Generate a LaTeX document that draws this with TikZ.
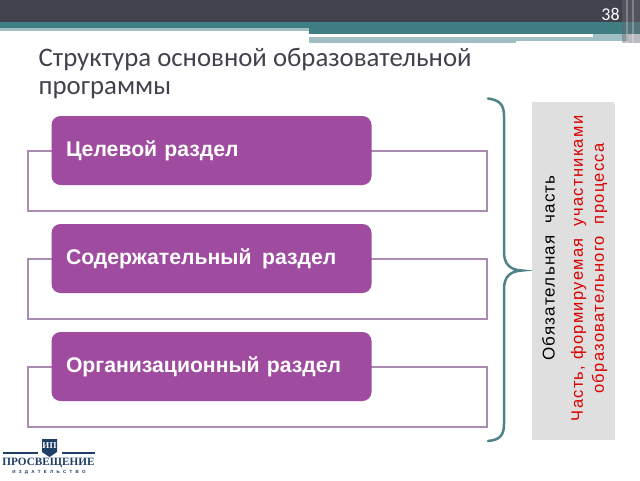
\documentclass[tikz,border=0pt]{standalone}
\usepackage{fontspec}
\setmainfont{Liberation Sans}
\newfontfamily\titlefont{Carlito}
\newfontfamily\logofont{Liberation Serif}
\definecolor{hdark}{HTML}{42424F}
\definecolor{hteal}{HTML}{3F7F84}
\definecolor{hlight}{HTML}{A0BFC2}
\definecolor{plum}{HTML}{9F4B9F}
\definecolor{plumline}{HTML}{A98BB0}
\definecolor{bracecol}{HTML}{4F8388}
\definecolor{greybox}{HTML}{DFDFDF}
\definecolor{navy}{HTML}{1F3F66}
\newcommand{\boxlabel}[1]{\raisebox{-2.5pt}{#1}}
\tikzset{
  x=1pt,y=-1pt,
  sectionbox/.style={fill=plum,rounded corners=9pt,minimum width=320pt,minimum height=69pt,text=white,font=\fontsize{21.2}{24}\selectfont\bfseries,inner sep=0pt,text width=291pt,align=left},
  frameline/.style={draw=plumline,line width=1.1pt},
  sidetext/.style={rotate=90,anchor=center,align=center}
}
\begin{document}
\begin{tikzpicture}
\useasboundingbox (0,0) rectangle (640,480);
\fill[white] (0,0) rectangle (640,480);
% header
\fill[hdark] (0,0) rectangle (640,22);
\fill[hteal] (0,22) rectangle (640,28);
\fill[hlight] (0,28) rectangle (309,31);
\fill[hteal] (309,28) rectangle (640,34);
\fill[white] (309,34) rectangle (593,37);
\fill[hlight] (309,37) rectangle (516,43);
\fill[hlight] (516,37) rectangle (593,41);
\fill[hlight] (593,34) rectangle (628,41);
\fill[hdark!80!white,opacity=.45] (622,0) rectangle (640,43);
\fill[white,opacity=.25] (626,0) rectangle (628,43);
\fill[white,opacity=.25] (632,0) rectangle (634,43);
\node[text=white,font=\fontsize{18}{18}\selectfont\titlefont,inner sep=0pt] (pagenum) at (610.5,14.5) {38};
% title
\node[anchor=west,text=hdark,font=\fontsize{26.8}{30}\selectfont\titlefont,inner sep=0pt] (title1) at (38.5,60) {Структура основной образовательной};
\node[anchor=west,text=hdark,font=\fontsize{26.8}{30}\selectfont\titlefont,inner sep=0pt] (title2) at (38.5,90.5) {программы};
% frames
\draw[frameline] (52,151) -- (28,151) -- (28,211) -- (487,211) -- (487,151) -- (371,151);
\draw[frameline] (52,259) -- (28,259) -- (28,319) -- (487,319) -- (487,259) -- (371,259);
\draw[frameline] (52,367) -- (28,367) -- (28,427) -- (487,427) -- (487,367) -- (371,367);
% boxes
\node[sectionbox] (b1) at (211.5,150.5) {\boxlabel{Целевой раздел}};
\node[sectionbox] (b2) at (211.5,258.5) {\boxlabel{Содержательный\, раздел}};
\node[sectionbox] (b3) at (211.5,366.5) {\boxlabel{Организационный раздел}};
% brace
\draw[bracecol,line width=2.5pt,line cap=round] (488,98.5) .. controls (500,100) and (504,105) .. (504,116) -- (504,252) .. controls (504,264) and (510,270) .. (522,270.5) .. controls (510,271) and (504,277) .. (504,289) -- (504,424) .. controls (504,435) and (500,440) .. (488,441);
% grey panel
\fill[black!25,opacity=.5] (532,104) rectangle (615,439.5);
\node[fill=greybox,minimum width=82pt,minimum height=335pt,inner sep=0pt] (panel) at (573,269.5) {};
\node[sidetext,text=black,font=\fontsize{17}{21}\selectfont\addfontfeature{LetterSpace=7}] (t1) at (548.5,268) {Обязательная\ \ часть};
\node[sidetext,text=red!85!black,font=\fontsize{16.5}{21}\selectfont\addfontfeature{LetterSpace=8}] (t2) at (589,268.5) {Часть, формируемая\ \ участниками\\образовательного\ \ процесса};
% logo
\draw[navy,line width=1.2pt] (3,453) -- (38,453);
\draw[navy,line width=1.2pt] (62,453) -- (95,453);
\fill[navy] (42,439) -- (57,439) -- (57,452) -- (49.5,457) -- (42,452) -- cycle;
\node[text=white,font=\fontsize{9}{9}\selectfont\logofont\bfseries,inner sep=0pt] (logomark) at (49.5,446) {ИП};
\node[text=navy,font=\fontsize{11.2}{12}\selectfont\logofont\bfseries,inner sep=0pt] (logo1) at (48.5,463) {ПРОСВЕЩЕНИЕ};
\node[text=navy,font=\fontsize{4.5}{5}\selectfont\bfseries,inner sep=0pt] (logo2) at (49,472.5) {И\ \ \,З\ \ \,Д\ \ \,А\ \ \,Т\ \ \,Е\ \ \,Л\ \ \,Ь\ \ \,С\ \ \,Т\ \ \,В\ \ \,О};
\end{tikzpicture}
\end{document}
